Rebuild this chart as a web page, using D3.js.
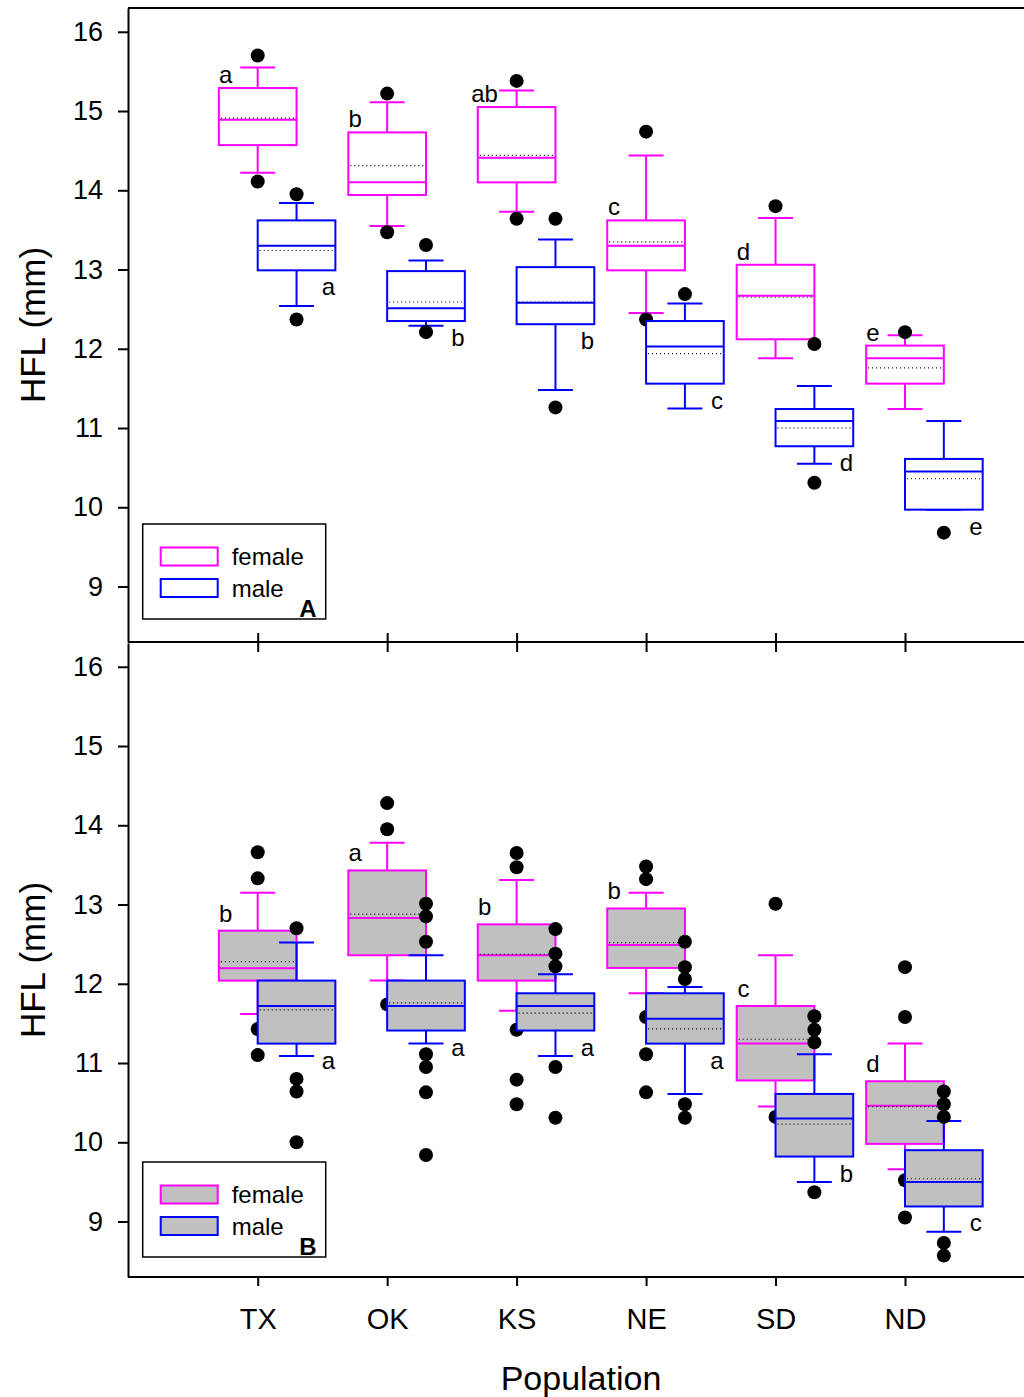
<!DOCTYPE html>
<html>
<head>
<meta charset="utf-8">
<script src="https://cdn.jsdelivr.net/npm/d3@7"></script>
<style>
  body { margin: 0; background: #fff; }
  svg { display: block; font-family: "Liberation Sans", Arial, sans-serif; }
</style>
</head>
<body>
<div id="chart"></div>
<script>
// populations on the x axis
var populations = ["TX", "OK", "KS", "NE", "SD", "ND"];

// each box: [whisker low, q1, median, q3, whisker high]
var femaleA = [
  [14.22, 14.57, 14.89, 15.29, 15.55],
  [13.55, 13.94, 14.10, 14.73, 15.11],
  [13.73, 14.10, 14.41, 15.05, 15.26],
  [12.45, 12.99, 13.30, 13.62, 14.44],
  [11.88, 12.12, 12.67, 13.06, 13.65],
  [11.24, 11.56, 11.88, 12.04, 12.17]
];
var femaleAMean = [14.91, 14.31, 14.44, 13.35, 12.65, 11.76];
var femaleAOut = [[15.70, 14.11], [15.22, 13.47], [15.38, 13.64], [14.74, 12.37], [13.80], [12.21]];
var femaleALetters = ["a", "b", "ab", "c", "d", "e"];

var maleA = [
  [12.54, 12.99, 13.30, 13.62, 13.84],
  [12.29, 12.35, 12.51, 12.98, 13.115],
  [11.48, 12.31, 12.58, 13.03, 13.38],
  [11.245, 11.56, 12.03, 12.35, 12.57],
  [10.55, 10.77, 11.09, 11.24, 11.53],
  [9.97, 9.97, 10.45, 10.61, 11.09]
];
var maleAMean = [13.24, 12.59, 12.59, 11.94, 11.00, 10.36];
var maleAOut = [[13.95, 12.37], [13.31, 12.21], [13.64, 11.26], [12.69], [12.06, 10.31], [9.68]];
var maleALetters = ["a", "b", "b", "c", "d", "e"];

var femaleB = [
  [11.62, 12.04, 12.195, 12.67, 13.15],
  [12.04, 12.36, 12.83, 13.43, 13.78],
  [11.66, 12.04, 12.36, 12.75, 13.31],
  [11.88, 12.20, 12.49, 12.95, 13.15],
  [10.45, 10.78, 11.245, 11.72, 12.36],
  [9.66, 9.98, 10.46, 10.77, 11.245]
];
var femaleBMean = [12.28, 12.88, 12.37, 12.52, 11.30, 10.45];
var femaleBOut = [
  [13.66, 13.33, 11.43, 11.10],
  [14.28, 13.95, 11.74],
  [13.65, 13.47, 11.42, 10.79, 10.48],
  [13.48, 13.32, 11.58, 11.11, 10.63],
  [13.01, 10.32],
  [12.21, 11.58, 9.52, 9.05]
];
var femaleBLetters = ["b", "a", "b", "b", "c", "d"];

var maleB = [
  [11.09, 11.245, 11.72, 12.04, 12.52],
  [11.245, 11.41, 11.72, 12.04, 12.36],
  [11.09, 11.41, 11.72, 11.88, 12.12],
  [10.61, 11.245, 11.56, 11.88, 11.96],
  [9.50, 9.82, 10.30, 10.61, 11.11],
  [8.87, 9.19, 9.50, 9.90, 10.27]
];
var maleBMean = [11.67, 11.76, 11.63, 11.43, 10.23, 9.54];
var maleBOut = [
  [12.70, 10.80, 10.64, 10.00],
  [13.01, 12.85, 12.53, 11.11, 10.95, 10.63, 9.84],
  [12.69, 12.38, 12.22, 10.95, 10.31],
  [12.53, 12.21, 12.06, 10.48, 10.31],
  [11.59, 11.42, 11.26, 9.37],
  [10.64, 10.48, 10.32, 8.73, 8.57]
];
var maleBLetters = ["a", "a", "a", "a", "b", "c"];

var yTicks = [9, 10, 11, 12, 13, 14, 15, 16];
var legendLabels = ["female", "male"];

var W = 1024, H = 1397;
var left = 128, right = 1024;
var pink = "#ff00ff", blue = "#0000ff", grey = "#c0c0c0";

var svg = d3.select("#chart").append("svg")
  .attr("width", W)
  .attr("height", H);

var x = d3.scalePoint().domain(populations).range([257.7, 905]);
var step = x.step();
var boxW = step * 0.6;
var capW = step * 0.27;
var shift = { female: 0, male: step * 0.3 };

var panels = [
  { name: "A", top: 8, bottom: 642, fill: "none", labelUp: 5, legendTop: 524,
    series: [
      { sex: "female", color: pink, boxes: femaleA, mean: femaleAMean, out: femaleAOut, letters: femaleALetters },
      { sex: "male", color: blue, boxes: maleA, mean: maleAMean, out: maleAOut, letters: maleALetters }
    ] },
  { name: "B", top: 643, bottom: 1277, fill: grey, labelUp: 9, legendTop: 1162,
    series: [
      { sex: "female", color: pink, boxes: femaleB, mean: femaleBMean, out: femaleBOut, letters: femaleBLetters },
      { sex: "male", color: blue, boxes: maleB, mean: maleBMean, out: maleBOut, letters: maleBLetters }
    ] }
];

// top frame line
svg.append("line")
  .attr("x1", left).attr("x2", right)
  .attr("y1", 8).attr("y2", 8)
  .attr("stroke", "#000").attr("stroke-width", 2);

panels.forEach(function(p) {
  var y = d3.scaleLinear().domain([8.3, 16.3]).range([p.bottom, p.top]);
  var g = svg.append("g");

  // y axis
  var yAxis = g.append("g")
    .attr("transform", "translate(" + left + ",0)")
    .call(d3.axisLeft(y).tickValues(yTicks).tickSize(10).tickSizeOuter(0).tickPadding(15));
  yAxis.selectAll("path, line").attr("stroke", "#000").attr("stroke-width", 2);
  yAxis.selectAll("text")
    .attr("font-size", 27)
    .attr("font-family", "Liberation Sans, Arial, sans-serif")
    .attr("fill", "#000");

  // axis title
  g.append("text")
    .attr("transform", "translate(45," + (p.top + p.bottom) / 2 + ") rotate(-90)")
    .attr("text-anchor", "middle")
    .attr("font-size", 35)
    .text("HFL (mm)");

  p.series.forEach(function(s) {
    var sg = g.append("g").attr("class", s.sex);
    var cx = function(i) { return x(populations[i]) + shift[s.sex]; };

    var nodes = sg.selectAll("g.box")
      .data(s.boxes)
      .enter()
      .append("g")
      .attr("class", "box");

    nodes.each(function(d, i) {
      var b = d3.select(this);
      var c = cx(i);

      // whiskers
      b.append("line")
        .attr("x1", c).attr("x2", c)
        .attr("y1", y(d[3])).attr("y2", y(d[4]));
      b.append("line")
        .attr("x1", c).attr("x2", c)
        .attr("y1", y(d[1])).attr("y2", y(d[0]));
      b.append("line")
        .attr("x1", c - capW / 2).attr("x2", c + capW / 2)
        .attr("y1", y(d[4])).attr("y2", y(d[4]));
      b.append("line")
        .attr("x1", c - capW / 2).attr("x2", c + capW / 2)
        .attr("y1", y(d[0])).attr("y2", y(d[0]));
      b.selectAll("line")
        .attr("stroke", s.color).attr("stroke-width", 2);

      b.append("rect")
        .attr("x", c - boxW / 2)
        .attr("y", y(d[3]))
        .attr("width", boxW)
        .attr("height", y(d[1]) - y(d[3]))
        .attr("fill", p.fill === "none" ? "#fff" : p.fill)
        .attr("stroke", s.color)
        .attr("stroke-width", 2);

      // median
      b.append("line")
        .attr("x1", c - boxW / 2).attr("x2", c + boxW / 2)
        .attr("y1", y(d[2])).attr("y2", y(d[2]))
        .attr("stroke", s.color).attr("stroke-width", 2);

      // mean
      b.append("line")
        .attr("x1", c - boxW / 2 + 2).attr("x2", c + boxW / 2 - 2)
        .attr("y1", y(s.mean[i])).attr("y2", y(s.mean[i]))
        .attr("stroke", "#000").attr("stroke-width", 1.2)
        .attr("stroke-dasharray", "1,3");

      // outliers
      b.selectAll("circle")
        .data(s.out[i])
        .enter()
        .append("circle")
        .attr("cx", c)
        .attr("cy", function(v) { return y(v); })
        .attr("r", 7)
        .attr("fill", "#000");

      // significance letters
      b.append("text")
        .attr("x", s.sex === "female" ? c - 32 : c + 32)
        .attr("y", s.sex === "female" ? y(d[3]) - p.labelUp : y(d[1]) + 25)
        .attr("text-anchor", "middle")
        .attr("font-size", 24)
        .text(s.letters[i]);
    });
  });

  // legend
  var lg = g.append("g").attr("transform", "translate(142.7," + p.legendTop + ")");
  lg.append("rect")
    .attr("width", 183).attr("height", 95)
    .attr("fill", "#fff")
    .attr("stroke", "#000").attr("stroke-width", 1.5);
  legendLabels.forEach(function(lab, k) {
    lg.append("rect")
      .attr("x", 18).attr("y", 23.5 + k * 31.5)
      .attr("width", 57).attr("height", 18)
      .attr("fill", p.fill === "none" ? "#fff" : p.fill)
      .attr("stroke", k === 0 ? pink : blue)
      .attr("stroke-width", 2);
    lg.append("text")
      .attr("x", 89).attr("y", 41 + k * 31.5)
      .attr("font-size", 24)
      .text(lab);
  });
  lg.append("text")
    .attr("x", 174).attr("y", 93)
    .attr("text-anchor", "end")
    .attr("font-size", 24)
    .attr("font-weight", "bold")
    .text(p.name);
});

// x axis between the panels: ticks both ways
var midDown = svg.append("g")
  .attr("transform", "translate(0,642)")
  .call(d3.axisBottom(x).tickSize(10).tickSizeOuter(0).tickFormat(""));
var midUp = svg.append("g")
  .attr("transform", "translate(0,642)")
  .call(d3.axisTop(x).tickSize(9).tickSizeOuter(0).tickFormat(""));
[midDown, midUp].forEach(function(a) {
  a.select(".domain").remove();
  a.selectAll("line").attr("stroke", "#000").attr("stroke-width", 2);
});
svg.append("line")
  .attr("x1", left).attr("x2", right)
  .attr("y1", 642).attr("y2", 642)
  .attr("stroke", "#000").attr("stroke-width", 2);

// bottom x axis
var xAxis = svg.append("g")
  .attr("transform", "translate(0,1277)")
  .call(d3.axisBottom(x).tickSize(9).tickSizeOuter(0));
xAxis.select(".domain").remove();
xAxis.selectAll("line").attr("stroke", "#000").attr("stroke-width", 2);
xAxis.selectAll("text")
  .attr("y", 52).attr("dy", 0)
  .attr("font-size", 29)
  .attr("font-family", "Liberation Sans, Arial, sans-serif")
  .attr("fill", "#000");
svg.append("line")
  .attr("x1", left).attr("x2", right)
  .attr("y1", 1277).attr("y2", 1277)
  .attr("stroke", "#000").attr("stroke-width", 2);

svg.append("text")
  .attr("x", 581).attr("y", 1390)
  .attr("text-anchor", "middle")
  .attr("font-size", 34)
  .text("Population");
</script>
</body>
</html>
